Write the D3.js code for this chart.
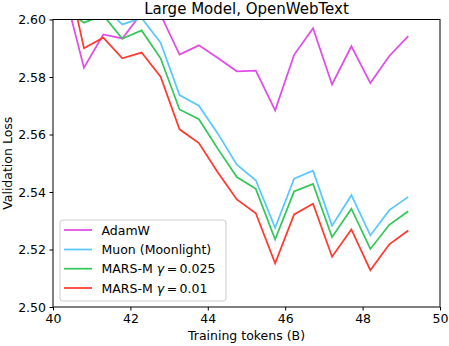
<!DOCTYPE html>
<html>
<head>
<meta charset="utf-8">
<script src="https://cdn.jsdelivr.net/npm/d3@7"></script>
<style>
  html, body { margin: 0; padding: 0; background: #fff; }
  svg { display: block; font-family: "DejaVu Sans", sans-serif; }
</style>
</head>
<body>
<svg id="chart" width="449" height="346"></svg>
<script>
const tokens = [40.31, 40.80, 41.30, 41.79, 42.29, 42.78, 43.27, 43.77, 44.26, 44.75, 45.24, 45.74, 46.23, 46.72, 47.21, 47.71, 48.20, 48.69, 49.18];
const adamw = [2.609, 2.5832, 2.5948, 2.5934, 2.6022, 2.6017, 2.5878, 2.5910, 2.5866, 2.5820, 2.5822, 2.5684, 2.5877, 2.5970, 2.5774, 2.5907, 2.5779, 2.5873, 2.5942];
const muon = [2.615, 2.606, 2.6045, 2.5983, 2.6005, 2.5919, 2.5737, 2.5700, 2.5603, 2.5495, 2.5441, 2.5275, 2.5446, 2.5474, 2.5283, 2.5389, 2.5249, 2.5337, 2.5383];
const marsA = [2.6036, 2.5989, 2.6015, 2.5933, 2.5962, 2.5865, 2.5687, 2.5653, 2.5550, 2.5452, 2.5411, 2.5235, 2.5402, 2.5428, 2.5243, 2.5342, 2.5202, 2.5286, 2.5333];
const marsB = [2.62, 2.5900, 2.5937, 2.5865, 2.5885, 2.5801, 2.5618, 2.5570, 2.5468, 2.5374, 2.5326, 2.5152, 2.5322, 2.5359, 2.5175, 2.5270, 2.5128, 2.5218, 2.5266];
const seriesNames = ["AdamW", "Muon (Moonlight)", "MARS-M γ=0.025", "MARS-M γ=0.01"];
const xTicks = [40, 42, 44, 46, 48, 50];
const yTicks = [2.50, 2.52, 2.54, 2.56, 2.58, 2.60];

const colors = ["#e04ee6", "#5ac8fa", "#34c759", "#ff3b30"];
const seriesData = [adamw, muon, marsA, marsB];

const svg = d3.select("#chart");
const L = 53, R = 440, T = 19.5, B = 307;
const x = d3.scaleLinear().domain([40, 50]).range([L, R]);
const y = d3.scaleLinear().domain([2.50, 2.60]).range([B, T]);

svg.append("defs").append("clipPath").attr("id", "clip")
  .append("rect").attr("x", L).attr("y", T).attr("width", R - L).attr("height", B - T);

const line = d3.line().x((d, i) => x(tokens[i])).y(d => y(d));
const g = svg.append("g").attr("clip-path", "url(#clip)");
seriesData.forEach((s, k) => {
  g.append("path").datum(s).attr("d", line)
    .attr("fill", "none").attr("stroke", colors[k]).attr("stroke-width", 1.75)
    .attr("stroke-linejoin", "miter");
});

// axes
const xAxis = d3.axisBottom(x).tickValues(xTicks).tickFormat(d3.format("d")).tickSize(3.5).tickPadding(3.5);
const yAxis = d3.axisLeft(y).tickValues(yTicks).tickFormat(d3.format(".2f")).tickSize(3.5).tickPadding(3.5);
const gx = svg.append("g").attr("transform", `translate(0,${B})`).call(xAxis);
const gy = svg.append("g").attr("transform", `translate(${L},0)`).call(yAxis);
[gx, gy].forEach(a => {
  a.select(".domain").remove();
  a.selectAll("text").attr("font-size", 12.5).attr("fill", "#000").attr("font-family", "DejaVu Sans");
  a.selectAll("line").attr("stroke", "#000").attr("stroke-width", 1);
});

// frame
svg.append("rect").attr("x", L).attr("y", T).attr("width", R - L).attr("height", B - T)
  .attr("fill", "none").attr("stroke", "#000").attr("stroke-width", 1);

// title & labels
svg.append("text").attr("x", (L + R) / 2).attr("y", 13.5).attr("text-anchor", "middle")
  .attr("font-size", 15).text("Large Model, OpenWebText");
svg.append("text").attr("x", (L + R) / 2).attr("y", 340).attr("text-anchor", "middle")
  .attr("font-size", 12.5).text("Training tokens (B)");
svg.append("text").attr("transform", `translate(12,${(T + B) / 2}) rotate(-90)`)
  .attr("text-anchor", "middle").attr("font-size", 12.5).text("Validation Loss");

// legend
const lg = svg.append("g");
lg.append("rect").attr("x", 60).attr("y", 220).attr("width", 166).attr("height", 81)
  .attr("rx", 3).attr("fill", "#fff").attr("fill-opacity", 0.8).attr("stroke", "#cccccc").attr("stroke-width", 1);
const rows = [230, 249.5, 268.7, 288];
seriesNames.forEach((name, k) => {
  lg.append("line").attr("x1", 64).attr("x2", 92).attr("y1", rows[k]).attr("y2", rows[k])
    .attr("stroke", colors[k]).attr("stroke-width", 1.75);
  const t = lg.append("text").attr("x", 101.5).attr("y", rows[k] + 4.5).attr("font-size", 12.5);
  const m = name.match(/^(.*?)γ=(.*)$/);
  if (m) {
    t.append("tspan").text(m[1]);
    t.append("tspan").attr("font-style", "italic").text("γ");
    t.append("tspan").text("\u2009=\u2009" + m[2]);
  } else {
    t.text(name);
  }
});
</script>
</body>
</html>
